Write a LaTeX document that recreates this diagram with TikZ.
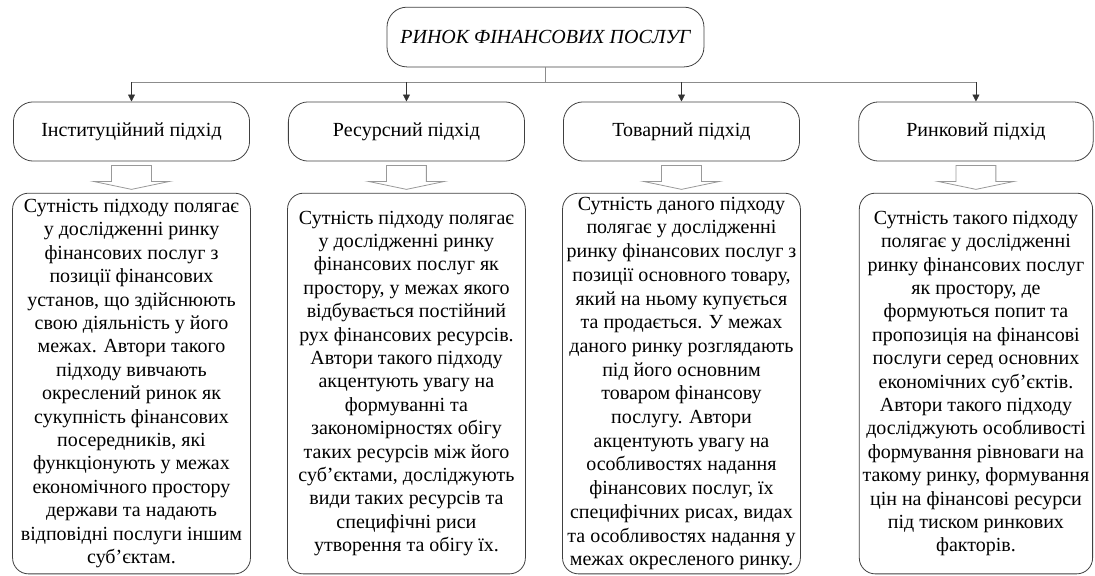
\documentclass[tikz,border=0pt]{standalone}
\usepackage{fontspec}
\setmainfont{Liberation Serif}
\usetikzlibrary{arrows.meta, positioning, calc}

\begin{document}
\begin{tikzpicture}[
      box/.style={rectangle, draw=black!75, rounded corners=0.35cm, minimum width=5.57cm, minimum height=1.05cm, font=\fontsize{10}{12}\selectfont\itshape},
      headbox/.style={rectangle, draw=black!75, rounded corners=0.35cm, minimum width=4.15cm, minimum height=1.04cm, font=\fontsize{10}{12}\selectfont},
      descbox/.style={rectangle, draw=black!75, rounded corners=0.28cm, minimum width=4.18cm, minimum height=6.69cm, inner sep=0.5pt, align=center, font=\fontsize{10}{11.7}\selectfont},
      link/.style={draw=black!45},
      hollow/.style={draw=black!40, fill=white},
      >={Triangle[length=3.5pt, width=3.5pt]}
    ]
    \useasboundingbox (0,0) rectangle (19.243,10.105);

    % Market
    \node[box] (market) at (9.586,9.454) {РИНОК ФІНАНСОВИХ ПОСЛУГ};

    % Approaches
    \node[headbox] (h1) at (2.311,7.794) {Інституційний підхід};
    \node[headbox] (h2) at (7.143,7.794) {Ресурсний підхід};
    \node[headbox] (h3) at (11.976,7.794) {Товарний підхід};
    \node[headbox, minimum width=4.12cm] (h4) at (17.151,7.794) {Ринковий підхід};

    % Descriptions
    \node[descbox, below=0.55cm of h1] (d1) {Сутність підходу полягає\\у дослідженні ринку\\фінансових послуг з\\позиції фінансових\\установ, що здійснюють\\свою діяльність у його\\межах. Автори такого\\підходу вивчають\\окреслений ринок як\\сукупність фінансових\\посередників, які\\функціонують у межах\\економічного простору\\держави та надають\\відповідні послуги іншим\\суб’єктам.};
    \node[descbox, below=0.55cm of h2] (d2) {Сутність підходу полягає\\у дослідженні ринку\\фінансових послуг як\\простору, у межах якого\\відбувається постійний\\рух фінансових ресурсів.\\Автори такого підходу\\акцентують увагу на\\формуванні та\\закономірностях обігу\\таких ресурсів між його\\суб’єктами, досліджують\\види таких ресурсів та\\специфічні риси\\утворення та обігу їх.};
    \node[descbox, below=0.55cm of h3, font=\fontsize{10}{11.85}\selectfont] (d3) {Сутність даного підходу\\полягає у дослідженні\\ринку фінансових послуг з\\позиції основного товару,\\який на ньому купується\\та продається. У межах\\даного ринку розглядають\\під його основним\\товаром фінансову\\послугу. Автори\\акцентують увагу на\\особливостях надання\\фінансових послуг, їх\\специфічних рисах, видах\\та особливостях надання у\\межах окресленого ринку.};
    \node[descbox, below=0.55cm of h4, minimum width=4.1cm] (d4) {Сутність такого підходу\\полягає у дослідженні\\ринку фінансових послуг\\як простору, де\\формуються попит та\\пропозиція на фінансові\\послуги серед основних\\економічних суб’єктів.\\Автори такого підходу\\досліджують особливості\\формування рівноваги на\\такому ринку, формування\\цін на фінансові ресурси\\під тиском ринкових\\факторів.};

    % Connections
    \draw[link] (market.south) -- ++(0,-0.264) coordinate (bus);
    \draw[link] (h1.north |- bus) -- (h4.north |- bus);
    \foreach \i in {1,...,4} {
      \draw[->, black!80] (h\i.north |- bus) -- (h\i.north);
      \draw[hollow] ($(h\i.south)+(-0.35,-0.07)$) -- ++(0,-0.28) -- ++(-0.32,0)
        -- ++(0.67,-0.14) -- ++(0.67,0.14) -- ++(-0.32,0) -- ++(0,0.28) -- cycle;
    }

\end{tikzpicture}
\end{document}
